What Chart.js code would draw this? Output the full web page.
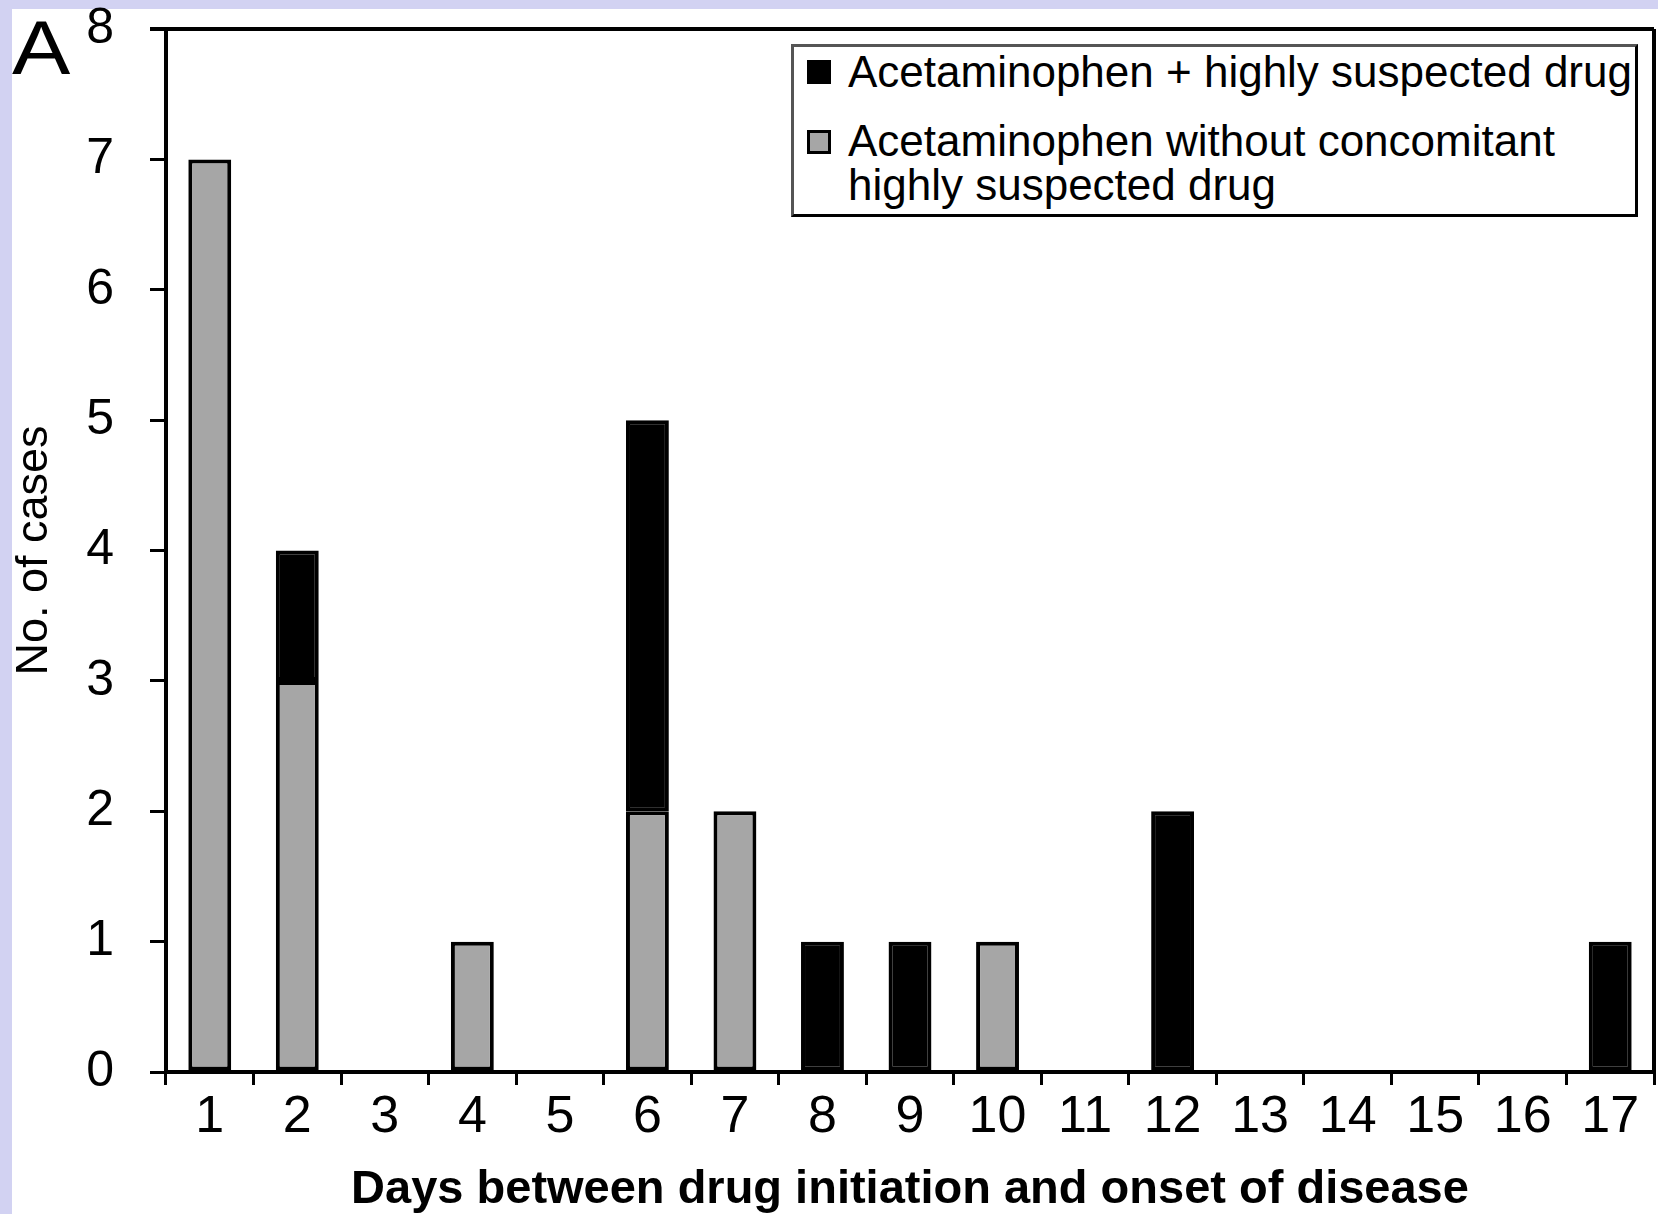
<!DOCTYPE html>
<html>
<head>
<meta charset="utf-8">
<script src="https://cdn.jsdelivr.net/npm/chart.js@4"></script>
<style>
  html, body { margin: 0; padding: 0; background: #d2d2f2; }
  #wrap { position: absolute; left: 0; top: 0; width: 1658px; height: 1214px; }
  #chart { position: absolute; left: 0; top: 0; }
  #panel { position: absolute; left: 12px; top: 10px; font-family: "Liberation Sans", Arial, sans-serif; font-size: 76px; line-height: 76px; color: #000; transform: scaleX(1.15); transform-origin: 0 0; }
  #legend { position: absolute; left: 791px; top: 44px; width: 841px; height: 167px; border: 3px solid #000; border-left-color: #555; border-top-color: #555; background: #fff; font-family: "Liberation Sans", Arial, sans-serif; font-size: 44px; line-height: 44px; color: #000; }
  .item { position: absolute; left: 54px; white-space: nowrap; }
  .sw { position: absolute; width: 18px; height: 18px; border: 3px solid #000; }
</style>
</head>
<body>
<div id="wrap">
  <canvas id="chart" width="1658" height="1214"></canvas>
  <div id="panel">A</div>
  <div id="legend"></div>
</div>
<script>
// ---- data ----
const days = ['1','2','3','4','5','6','7','8','9','10','11','12','13','14','15','16','17'];
const withoutConcomitant = [7,3,0,1,0,2,2,0,0,1,0,0,0,0,0,0,0];
const withHighlySuspected = [0,1,0,0,0,3,0,1,1,0,0,2,0,0,0,0,1];
const seriesNames = [
  ['Acetaminophen + highly suspected drug'],
  ['Acetaminophen without concomitant', 'highly suspected drug']
];
const yTicks = [0,1,2,3,4,5,6,7,8];
const xTitle = 'Days between drug initiation and onset of disease';
const yTitle = 'No. of cases';

const FONT = '"Liberation Sans", Arial, sans-serif';

const framePlugin = {
  id: 'frame',
  beforeDraw(chart) {
    const ctx = chart.ctx;
    ctx.save();
    ctx.fillStyle = '#d2d2f2';
    ctx.fillRect(0, 0, chart.width, chart.height);
    ctx.fillStyle = '#ffffff';
    ctx.fillRect(12, 9, chart.width - 12, chart.height - 9);
    ctx.restore();
  },
  afterDatasetsDraw(chart) {
    const a = chart.chartArea;
    const ctx = chart.ctx;
    ctx.save();
    ctx.strokeStyle = '#000';
    ctx.lineWidth = 4;
    ctx.beginPath();
    ctx.moveTo(a.left - 16, a.top);
    ctx.lineTo(a.right, a.top);
    ctx.moveTo(a.right, a.top);
    ctx.lineTo(a.right, a.bottom);
    ctx.stroke();
    ctx.restore();
  }
};

function noPad(s) { s.paddingTop = 0; s.paddingBottom = 0; s.paddingLeft = 0; s.paddingRight = 0; }

new Chart(document.getElementById('chart'), {
  type: 'bar',
  data: {
    labels: days,
    datasets: [
      {
        label: seriesNames[1].join(' '),
        data: withoutConcomitant,
        backgroundColor: '#a6a6a6',
        borderColor: '#000',
        borderWidth: 4,
        borderSkipped: false,
        barPercentage: 0.49,
        categoryPercentage: 1
      },
      {
        label: seriesNames[0].join(' '),
        data: withHighlySuspected,
        backgroundColor: '#000',
        borderColor: '#000',
        borderWidth: 4,
        borderSkipped: false,
        barPercentage: 0.49,
        categoryPercentage: 1
      }
    ]
  },
  options: {
    responsive: false,
    animation: false,
    events: [],
    layout: { autoPadding: false, padding: { top: 29, right: 4, left: 0, bottom: 0 } },
    plugins: { legend: { display: false }, tooltip: { enabled: false } },
    scales: {
      x: {
        stacked: true,
        offset: true,
        afterFit(s) { s.height = 142; noPad(s); },
        grid: { display: true, offset: true, drawOnChartArea: false, drawTicks: true, tickLength: 13, color: '#000', lineWidth: 3 },
        border: { display: true, color: '#000', width: 4 },
        ticks: { color: '#000', font: { family: FONT, size: 52 }, padding: 1, maxRotation: 0, autoSkip: false },
        title: { display: true, text: xTitle, color: '#000', font: { family: FONT, size: 47, weight: 'bold', lineHeight: 1 }, padding: { top: 0, bottom: 0 } }
      },
      y: {
        stacked: true,
        min: 0,
        max: 8,
        afterFit(s) { s.width = 166; noPad(s); },
        afterBuildTicks(s) { s.ticks = yTicks.map(v => ({ value: v })); },
        grid: { display: true, drawOnChartArea: false, drawTicks: true, tickLength: 16, color: '#000', lineWidth: 3 },
        border: { display: true, color: '#000', width: 4 },
        ticks: { color: '#000', font: { family: FONT, size: 50 }, padding: 36 },
        title: { display: true, text: yTitle, color: '#000', font: { family: FONT, size: 45, lineHeight: 1 }, padding: { top: 12, bottom: 0 } }
      }
    }
  },
  plugins: [framePlugin]
});

// legend built from the series names
const legend = document.getElementById('legend');
const swatchColors = ['#000', '#a6a6a6'];
const itemTops = [3, 72];
const swatchTops = [13, 83];
seriesNames.forEach((lines, i) => {
  const sw = document.createElement('div');
  sw.className = 'sw';
  sw.style.left = '13px';
  sw.style.top = swatchTops[i] + 'px';
  sw.style.background = swatchColors[i];
  legend.appendChild(sw);
  const it = document.createElement('div');
  it.className = 'item';
  it.style.top = itemTops[i] + 'px';
  it.innerHTML = lines.join('<br>');
  legend.appendChild(it);
});
</script>
</body>
</html>
